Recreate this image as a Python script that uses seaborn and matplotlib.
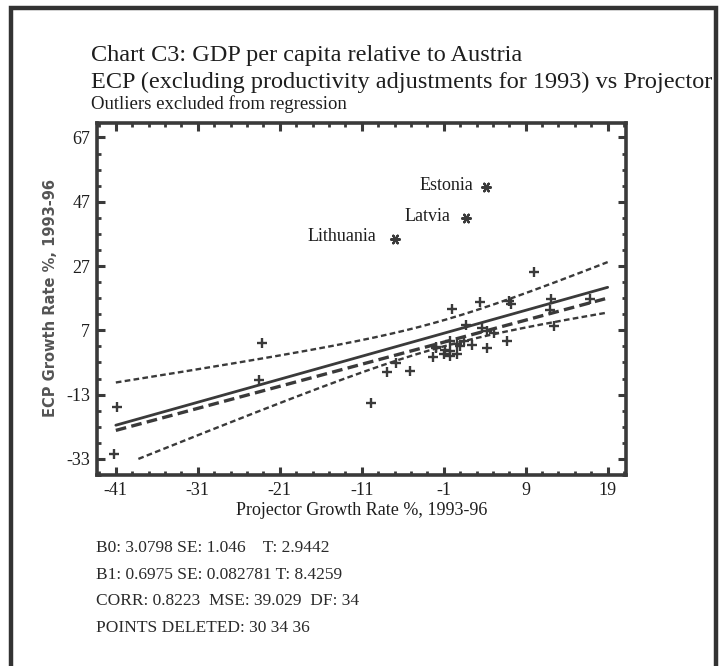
import numpy as np
import pandas as pd
import matplotlib
matplotlib.use("Agg")
import matplotlib.pyplot as plt
from matplotlib.patches import Rectangle
import seaborn as sns

# growth rates (%), 1993-96, countries kept in the regression
proj_growth = [-40.8, -41.2, -23.2, -23.5, -9.9, -7.9, -6.8, -5.1, -2.3,
               -2.0, -1.9, -0.8, -1.0, -0.2, -0.2, -0.2, 0.6, 0.6, 1.0, 1.5,
               2.5, 0.0, 1.7, 3.4, 3.7, 4.3, 5.1, 4.3, 6.7, 7.0, 7.2, 10.0,
               12.1, 12.0, 12.4, 16.9]
ecp_growth = [-17.0, -31.5, 3.1, -8.6, -15.7, -6.1, -3.1, -5.6, -1.2,
              1.6, 1.9, 1.0, -0.5, -1.0, 0.5, 3.6, 2.8, -0.5, 2.1, 3.6,
              2.4, 13.7, 8.8, 15.8, 7.7, 6.7, 6.2, 1.4, 3.8, 16.0, 15.2, 25.0,
              16.8, 13.4, 8.3, 16.8]

# points deleted from the regression
outlier_names = ['Estonia', 'Latvia', 'Lithuania']
outlier_proj = [4.1, 1.7, -7.0]
outlier_ecp = [51.6, 42.0, 35.5]

# fitted line with its band, and the second (dashed) line
fit_b0, fit_b1 = 6.8, 0.715
alt_b0, alt_b1 = 4.0, 0.686
mse = 39.029
n_points = 36
se_b1 = 0.082781
band_t = 3.9
band_center = -1.8
band_floor = -33
line_start, line_end = -41, 19

x_ticks = [-41, -31, -21, -11, -1, 9, 19]
y_ticks = [-33, -13, 7, 27, 47, 67]

stats_lines = [
    'B0: 3.0798 SE: 1.046    T: 2.9442',
    'B1: 0.6975 SE: 0.082781 T: 8.4259',
    'CORR: 0.8223  MSE: 39.029  DF: 34',
    'POINTS DELETED: 30 34 36',
]


def main():
    sns.set_style("ticks")
    plt.rcParams['font.family'] = ['Liberation Serif', 'DejaVu Serif']
    ink = '#3a3a3a'
    txt = '#1e1e1e'

    fig = plt.figure(figsize=(7.27, 6.66), dpi=100)
    ax = fig.add_axes([0.1334, 0.2868, 0.7277, 0.5285])

    # regression lines evaluated over the plotted range
    xs = np.linspace(line_start, line_end, 241)
    fit = fit_b0 + fit_b1 * xs
    half = band_t * np.sqrt(mse / n_points + (se_b1 * (xs - band_center)) ** 2)
    lower = fit - half
    lower[lower < band_floor] = np.nan
    lines = pd.DataFrame({'x': xs, 'fit': fit, 'alt': alt_b0 + alt_b1 * xs,
                          'upper': fit + half, 'lower': lower})

    sns.lineplot(data=lines, x='x', y='fit', color=ink, linewidth=2.0, ax=ax)
    sns.lineplot(data=lines, x='x', y='alt', color=ink, linewidth=2.4,
                 linestyle=(0, (3.2, 1.6)), ax=ax)
    for col in ['upper', 'lower']:
        sns.lineplot(data=lines, x='x', y=col, color=ink, linewidth=1.7,
                     linestyle=(0, (2.4, 1.4)), ax=ax)

    pts = pd.DataFrame({'proj': proj_growth, 'ecp': ecp_growth})
    sns.scatterplot(data=pts, x='proj', y='ecp', marker='+', s=60,
                    color=ink, linewidth=1.7, ax=ax, zorder=3)

    outl = pd.DataFrame({'proj': outlier_proj, 'ecp': outlier_ecp,
                         'name': outlier_names})
    sns.scatterplot(data=outl, x='proj', y='ecp', marker=(6, 2, 90), s=40,
                    color=ink, linewidth=1.6, ax=ax, zorder=3)
    label_offsets = [(-12.6, 1), (-15.7, 1), (-18.3, 2.7)]
    for (name, px, py), off in zip(outl[['name', 'proj', 'ecp']].values,
                                   label_offsets):
        ax.annotate(name, (px, py), xytext=off, textcoords='offset pixels',
                    ha='right', va='center', fontsize=13, color=txt)

    # axes, ticks
    ax.set_xlim(-43.3, 21.24)
    ax.set_ylim(-37.3, 71.5)
    ax.set_xticks(x_ticks)
    ax.set_yticks(y_ticks)
    ax.set_xticks(np.arange(-43, 22, 2), minor=True)
    ax.set_yticks(np.arange(-38, 72, 5), minor=True)
    ax.set_xticklabels([str(t) for t in x_ticks])
    ax.set_yticklabels([str(t) for t in y_ticks])
    ax.tick_params(which='both', direction='in', top=True, right=True,
                   color=ink, labelcolor=txt, labelsize=13)
    ax.tick_params(which='major', length=6, width=2.2, pad=5)
    ax.tick_params(which='minor', length=3, width=2.0)
    for sp in ax.spines.values():
        sp.set_visible(True)
        sp.set_linewidth(2.6)
        sp.set_color(ink)

    ax.set_xlabel('Projector Growth Rate %, 1993-96', fontsize=13,
                  color=txt, labelpad=2)
    ax.set_ylabel('')
    fig.text(0.069, 0.553, 'ECP Growth Rate %, 1993-96', rotation=90,
             family='DejaVu Sans', weight='bold', fontsize=10.5,
             color='#555555', ha='center', va='center')

    # titles
    fig.text(0.125, 1 - 55 / 666, 'Chart C3: GDP per capita relative to Austria',
             fontsize=17.5, color=txt, va='center')
    fig.text(0.125, 1 - 82 / 666,
             'ECP (excluding productivity adjustments for 1993) vs Projector',
             fontsize=17.5, color=txt, va='center')
    fig.text(0.125, 1 - 104 / 666, 'Outliers excluded from regression',
             fontsize=13.5, color=txt, va='center')

    # regression statistics
    for i, line in enumerate(stats_lines):
        fig.text(96 / 727, 1 - (548 + i * 26.7) / 666, line, fontsize=12.5,
                 color='#2a2a2a', va='center')

    # outer frame
    fig.add_artist(Rectangle((10.5 / 727, -0.05), (716 - 10.5) / 727,
                             1.05 + (1 - 8 / 666) - 1, fill=False,
                             linewidth=3.2, edgecolor='#333333',
                             transform=fig.transFigure, clip_on=False))

    fig.savefig('out.png', dpi=100)


if __name__ == "__main__":
    main()
